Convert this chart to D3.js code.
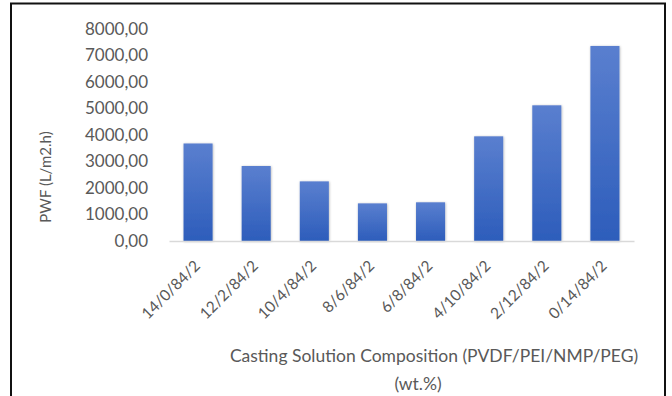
<!DOCTYPE html>
<html>
<head>
<meta charset="utf-8">
<script src="https://cdn.jsdelivr.net/npm/d3@7"></script>
<style>
  html, body { margin: 0; padding: 0; background: #fff; }
  svg { display: block; }
  text { font-family: Lato, "Open Sans", sans-serif; fill: #595959; }
</style>
</head>
<body>
<svg id="chart" width="672" height="396"></svg>
<script>
// Pure water flux per casting solution composition
const categories = ["14/0/84/2", "12/2/84/2", "10/4/84/2", "8/6/84/2", "6/8/84/2", "4/10/84/2", "2/12/84/2", "0/14/84/2"];
const pwfValues = [3680, 2830, 2250, 1420, 1460, 3950, 5120, 7360];
const yTicks = [0, 1000, 2000, 3000, 4000, 5000, 6000, 7000, 8000];
const yTitle = "PWF (L/m2.h)";
const xTitleLines = ["Casting Solution Composition (PVDF/PEI/NMP/PEG)", "(wt.%)"];

const svg = d3.select("#chart");

// outer frame
svg.append("rect")
  .attr("x", 11).attr("y", 3.5)
  .attr("width", 654).attr("height", 400)
  .attr("fill", "none").attr("stroke", "#111").attr("stroke-width", 2);

const plot = { left: 169, right: 634, top: 29, bottom: 241 };

const x = d3.scaleBand().domain(categories).range([plot.left, plot.right]).paddingInner(0.5).paddingOuter(0.25);
const y = d3.scaleLinear().domain([0, 8000]).range([plot.bottom, plot.top]);

const locale = d3.formatLocale({ decimal: ",", thousands: "", grouping: [3], currency: ["", ""] });
const fmt = locale.format(".2f");

// bar gradient and soft shadow
const defs = svg.append("defs");
const grad = defs.append("linearGradient").attr("id", "barGrad").attr("x1", 0).attr("y1", 0).attr("x2", 0).attr("y2", 1);
grad.append("stop").attr("offset", "0%").attr("stop-color", "#5a7fcf");
grad.append("stop").attr("offset", "100%").attr("stop-color", "#2d5dbb");
const shadow = defs.append("filter").attr("id", "barShadow").attr("x", "-20%").attr("y", "-5%").attr("width", "140%").attr("height", "110%");
shadow.append("feDropShadow").attr("dx", 0.5).attr("dy", 0.5).attr("stdDeviation", 1).attr("flood-color", "#000").attr("flood-opacity", 0.3);

// y axis labels
const yAxis = svg.append("g").attr("transform", `translate(148,0)`)
  .call(d3.axisLeft(y).tickValues(yTicks).tickFormat(fmt).tickSize(0).tickPadding(0));
yAxis.select(".domain").remove();
yAxis.selectAll("text").attr("font-size", 17).attr("fill", "#595959").attr("font-family", "Lato, sans-serif");

// bars
svg.append("g").selectAll("rect").data(pwfValues).join("rect")
  .attr("x", (d, i) => x(categories[i]))
  .attr("y", d => y(d))
  .attr("width", x.bandwidth())
  .attr("height", d => y(0) - y(d))
  .attr("fill", "url(#barGrad)")
  .attr("filter", "url(#barShadow)");

// x axis baseline and rotated category labels
const xAxis = svg.append("g").attr("transform", `translate(0,${plot.bottom})`)
  .call(d3.axisBottom(x).tickSize(0).tickPadding(0).tickSizeOuter(0));
xAxis.select(".domain").attr("stroke", "#d9d9d9").attr("stroke-width", 1.5);
xAxis.selectAll(".tick text")
  .attr("font-size", 15.5).attr("fill", "#595959").attr("font-family", "Lato, sans-serif")
  .attr("text-anchor", "end")
  .attr("dy", 0).attr("y", 0)
  .attr("transform", "translate(3,26) rotate(-45)");

// axis titles
svg.append("text")
  .attr("transform", "translate(51,177) rotate(-90)")
  .attr("text-anchor", "middle")
  .attr("font-size", 15)
  .text(yTitle);

svg.append("text").attr("x", 434).attr("y", 362).attr("text-anchor", "middle").attr("font-size", 17.5).text(xTitleLines[0]);
svg.append("text").attr("x", 418).attr("y", 390).attr("text-anchor", "middle").attr("font-size", 17.5).text(xTitleLines[1]);
</script>
</body>
</html>
